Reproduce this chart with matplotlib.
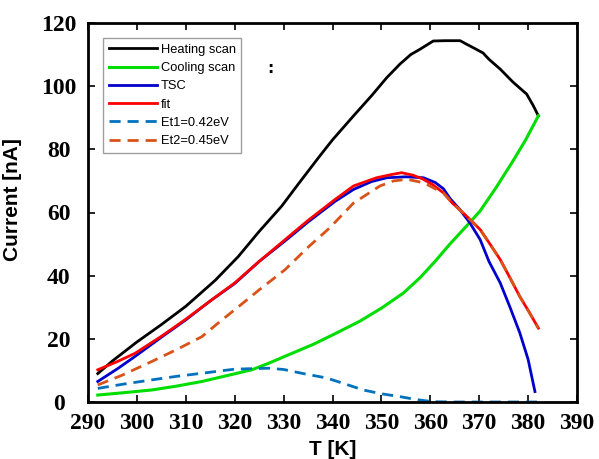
import matplotlib
matplotlib.use("Agg")
import matplotlib.pyplot as plt

# Heating scan
T_heat = [292, 295, 300, 305, 310, 316, 320.7, 325, 329.6, 333, 337.2, 340, 344.3, 348,
          351.1, 353.8, 356, 357.9, 360.6, 363, 366.1, 367.4, 369, 370.8, 372, 374.3,
          376.9, 379.7, 381, 382.1]
I_heat = [9.0, 13, 19, 24.5, 30.3, 38.5, 46, 54, 62, 69, 77.5, 83, 90.6, 97,
          102.7, 107, 110, 111.7, 114.3, 114.4, 114.4, 113.3, 112, 110.5, 108.5, 105.4,
          101.3, 97.5, 94, 90.6]

# Cooling scan
T_cool = [292, 297, 303, 308, 313.3, 318, 323.5, 327, 331.7, 336, 340.5, 345.6, 350,
          354.5, 358, 361.3, 364, 367.4, 370.2, 373.5, 376.9, 379.5, 382.1]
I_cool = [2.2, 2.9, 3.8, 5, 6.5, 8.2, 10.2, 12.3, 15.4, 18.2, 21.6, 25.6, 29.7,
          34.5, 39.5, 45.1, 50, 55.7, 60.5, 68, 76.3, 83, 90.6]

# TSC
T_tsc = [292, 296, 299.6, 305, 310, 315, 320, 325, 330.3, 335, 340.5, 344.3, 348, 351.1,
         355, 358.6, 361, 362.7, 364, 366, 368.1, 370.2, 372, 374.3, 376.3, 378.3, 380,
         381.4]
I_tsc = [6.5, 10.5, 14.4, 20.5, 26, 32, 37.5, 44.5, 51, 57, 63.5, 67.3, 69.8, 71,
         71.3, 71, 69.5, 67.5, 64.5, 61, 56.7, 51.4, 44.5, 37.7, 30, 21.9, 13.5,
         3.3]

# fit
T_fit = [292, 296, 299.6, 305, 309.8, 315, 320, 325, 330.3, 335, 340.5, 344.3, 349, 352,
         354.1, 356.5, 358.6, 360.5, 362.7, 364.5, 366.7, 368.1, 370.2, 372.2, 374.3,
         376.3, 378.3, 380.2, 382.1]
I_fit = [10.2, 12.8, 15.4, 20.8, 26, 32, 37.7, 44.5, 51.4, 57.5, 64.1, 68.4, 71, 72,
         72.6, 71.8, 70.5, 68.8, 66.2, 63, 59.9, 57.8, 54.6, 50, 45.1,
         39.3, 33.4, 28.5, 23.4]

# Et1 = 0.42 eV
T_et1 = [292, 297, 303, 308, 313.3, 320, 326.9, 330, 333.7, 338.8, 342, 346.3, 350,
         353.8, 357, 360.5, 365, 370, 375, 382]
I_et1 = [4.3, 5.6, 7, 8.1, 9.1, 10.4, 10.7, 10.3, 9.1, 7.6, 6.0, 3.8, 2.6,
         1.7, 0.8, 0.1, 0, 0, 0, 0]

# Et2 = 0.45 eV
T_et2 = [292, 297, 303, 308, 313.3, 317, 320, 325, 330.3, 335, 339.4, 344.3, 349.7,
         352.5, 355.2, 357.5, 359.3, 361, 362.7, 364.5, 366.7, 368.1, 370.2, 372.2, 374.3,
         376.3, 378.3, 380.2, 382.1]
I_et2 = [5.4, 8.5, 12.8, 16.5, 20.7, 25.5, 29.2, 35.5, 41.9, 49, 55.1, 63, 68.4,
         70, 70.5, 69.8, 68.9, 67.5, 66.2, 63, 59.9, 57.8, 54.6, 50, 45.1,
         39.3, 33.4, 28.5, 23.4]

x_ticks = [290, 300, 310, 320, 330, 340, 350, 360, 370, 380, 390]
y_ticks = [0, 20, 40, 60, 80, 100, 120]

fig = plt.figure(figsize=(5.99, 4.59), dpi=100)
ax = fig.add_axes([88 / 599, 57 / 459, 489 / 599, 379 / 459])

ax.plot(T_heat, I_heat, color="black", lw=2.0, label="Heating scan")
ax.plot(T_cool, I_cool, color="#00DD00", lw=2.2, label="Cooling scan")
ax.plot(T_tsc, I_tsc, color="#0000CC", lw=2.0, label="TSC")
ax.plot(T_fit, I_fit, color="#FF0000", lw=2.0, label="fit")
ax.plot(T_et1, I_et1, color="#0072BD", lw=2.0, dashes=(4, 2.5), label="Et1=0.42eV")
ax.plot(T_et2, I_et2, color="#D95319", lw=2.0, dashes=(4, 2.5), label="Et2=0.45eV")

ax.set_xlim(290, 390)
ax.set_ylim(0, 120)
ax.set_xticks(x_ticks)
ax.set_yticks(y_ticks)
for lbl in ax.get_xticklabels() + ax.get_yticklabels():
    lbl.set_fontfamily("Liberation Serif")
    lbl.set_fontweight("bold")
    lbl.set_fontsize(17)
for lbl in ax.get_yticklabels():
    lbl.set_horizontalalignment("center")
ax.tick_params(direction="in", length=5, width=1.2, top=True, right=True)
ax.tick_params(axis="x", pad=8)
ax.tick_params(axis="y", pad=21)
for sp in ax.spines.values():
    sp.set_linewidth(2)

ax.set_xlabel("T [K]", fontfamily="Liberation Sans", fontweight="bold", fontsize=15, labelpad=4)
ax.set_ylabel("Current [nA]", fontfamily="Liberation Sans", fontweight="bold", fontsize=15)
ax.yaxis.set_label_coords(-0.135, 0.533)

leg = ax.legend(loc="upper left", bbox_to_anchor=(0.031, 0.96), borderaxespad=0,
                prop={"family": "Liberation Sans", "size": 9.3}, frameon=True, fancybox=False,
                edgecolor="#888888", handlelength=3.7, handletextpad=0.3,
                labelspacing=0.48, borderpad=0.45)
leg.get_frame().set_linewidth(1.0)

ax.text(0.372, 0.881, ":", transform=ax.transAxes, fontsize=11, fontweight="bold",
        ha="center", va="center")

fig.savefig("out.png", dpi=100)
